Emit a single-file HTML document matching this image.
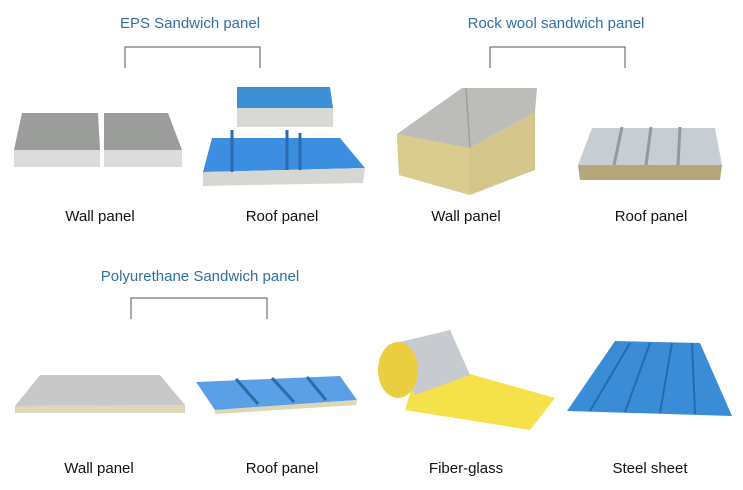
<!DOCTYPE html>
<html><head><meta charset="utf-8"><style>
html,body{margin:0;padding:0;background:#fff;}
svg{display:block}
text{font-family:"Liberation Sans",sans-serif;}
</style></head><body>
<svg width="743" height="490" viewBox="0 0 743 490" xmlns="http://www.w3.org/2000/svg">
<rect width="743" height="490" fill="#fff"/>
<g fill="#2f6fa6" font-size="15">
<text x="190" y="28" text-anchor="middle">EPS Sandwich panel</text>
<text x="556" y="28" text-anchor="middle">Rock wool sandwich panel</text>
<text x="200" y="281" text-anchor="middle">Polyurethane Sandwich panel</text>
</g>
<g stroke="#555" stroke-width="1" fill="none">
<path d="M125 68V47H260V68"/>
<path d="M490 68V47H625V68"/>
<path d="M131 319V298H267V319"/>
</g>
<g fill="#111" font-size="15" text-anchor="middle">
<text x="100" y="221">Wall panel</text>
<text x="282" y="221">Roof panel</text>
<text x="466" y="221">Wall panel</text>
<text x="651" y="221">Roof panel</text>
<text x="99" y="473">Wall panel</text>
<text x="282" y="473">Roof panel</text>
<text x="466" y="473">Fiber-glass</text>
<text x="650" y="473">Steel sheet</text>
</g>
<!-- EPS wall -->
<polygon points="22,113 98,113 100,150 14,150" fill="#9a9d9a"/>
<polygon points="14,150 100,150 100,167 14,167" fill="#dcdcdc"/>
<polygon points="104,113 168,113 182,150 104,150" fill="#9a9d9a"/>
<polygon points="104,150 182,150 182,167 104,167" fill="#dcdcdc"/>
<!-- EPS roof -->
<polygon points="237,87 330,87 333,108 237,108" fill="#3d8fd6"/>
<polygon points="237,108 333,108 333,127 237,127" fill="#d8d8d4"/>
<polygon points="212,138 340,138 365,168 203,172" fill="#3b8ee0"/>
<polygon points="203,172 365,168 363,183 203,186" fill="#d6d6d2"/>
<path d="M232 130V172M287 130V170M300 133V170" stroke="#2a6ab0" stroke-width="3"/>
<!-- Rock wool wall -->
<polygon points="397,138 470,178 470,195 399,175" fill="#d8cb8c"/>
<polygon points="397,138 470,178 470,195" fill="#d8cb8c"/>
<polygon points="470,148 535,112 535,170 470,195" fill="#d4c68a"/>
<polygon points="397,138 470,98 470,148 " fill="#d8cb8c"/>
<polygon points="397,134 462,88 537,88 535,112 470,148" fill="#bcbcb8"/>
<polygon points="397,134 470,148 470,195 399,175" fill="#d9cc8e"/>
<path d="M466 88L470 148" stroke="#9f9f9a" stroke-width="1.5"/>
<!-- Rock roof -->
<polygon points="592,128 715,128 722,165 578,165" fill="#c6cdd3"/>
<polygon points="578,165 722,165 720,180 580,180" fill="#b5a57a"/>
<path d="M622 127L614 165M651 127L646 165M680 127L678 165" stroke="#8f9aa3" stroke-width="3"/>
<!-- PU wall -->
<polygon points="40,375 160,375 185,405 15,406" fill="#c8c8c8"/>
<polygon points="15,406 185,405 185,413 15,413" fill="#ddd6b8"/>
<!-- PU roof -->
<polygon points="196,382 340,376 357,400 215,410" fill="#5aa0e6"/>
<polygon points="215,410 357,400 356,405 215,414" fill="#e0d6b4"/>
<path d="M236 379L258 404M272 378L294 402M307 377L326 400" stroke="#2c6aa8" stroke-width="3"/>
<!-- Fiber-glass -->
<polygon points="420,360 555,398 530,430 405,410" fill="#f5e24a"/>
<polygon points="388,345 450,330 470,375 415,395" fill="#c7cbd0"/>
<ellipse cx="398" cy="370" rx="20" ry="28" fill="#e9cf40"/>
<!-- Steel sheet -->
<polygon points="615,341 700,343 732,416 567,411" fill="#3b8cd6"/>
<path d="M630 343L590 411M650 343L625 412M672 343L660 413M692 343L695 414" stroke="#246ab0" stroke-width="2"/>
</svg>
</body></html>
